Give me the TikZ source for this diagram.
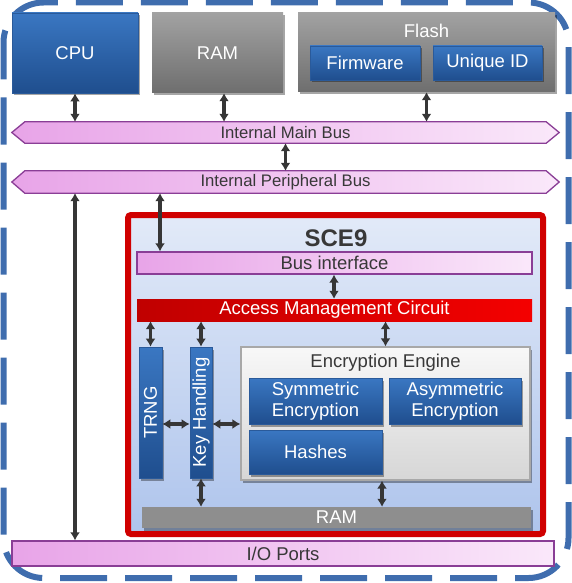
\documentclass[tikz,border=0pt]{standalone}
\usepackage{fontspec}
\setmainfont{Liberation Sans}
\usetikzlibrary{arrows.meta,shadows,calc}
\definecolor{blueT}{HTML}{3A77C2}
\definecolor{blueB}{HTML}{1F4E8E}
\definecolor{blueD}{HTML}{2A5A9A}
\definecolor{grayT}{HTML}{A2A2A2}
\definecolor{grayB}{HTML}{6E6E6E}
\definecolor{ramgray}{HTML}{8E8E8E}
\definecolor{pinkL}{HTML}{E8A4E8}
\definecolor{pinkR}{HTML}{FAE8FA}
\definecolor{busedge}{HTML}{8A3E96}
\definecolor{arrowc}{HTML}{363636}
\definecolor{txtdark}{HTML}{383838}
\definecolor{sceT}{HTML}{E2EAF8}
\definecolor{sceB}{HTML}{AEC4EC}
\definecolor{sceRed}{HTML}{D00000}
\definecolor{amcL}{HTML}{C00000}
\definecolor{amcR}{HTML}{F40000}
\definecolor{engT}{HTML}{F8F8F8}
\definecolor{engB}{HTML}{D6D6D6}
\definecolor{engEdge}{HTML}{A8A8A8}
\definecolor{outerc}{HTML}{3F6DAE}
\newcommand\fsbig{\fontsize{18.5}{21}\selectfont}
\newcommand\fsbus{\fontsize{16.7}{19}\selectfont}
\begin{document}
\begin{tikzpicture}[x=1pt,y=-1pt,
  box/.style={inner sep=0pt, text=white, font=\fsbig},
  shad/.style={drop shadow={shadow xshift=2pt, shadow yshift=-2.5pt, opacity=0.35, fill=black}},
  bluebox/.style={box, top color=blueT, bottom color=blueB, draw=blueD, line width=0.6pt, shad},
  graybox/.style={box, top color=grayT, bottom color=grayB, draw=none, shad},
  holder/.style={inner sep=0pt, draw=none},
  bus/.style={left color=pinkL, right color=pinkR, draw=busedge, line width=1.3pt},
  bustext/.style={inner sep=0pt, text=txtdark, font=\fsbus},
  conn/.style={draw=arrowc, line width=3.2pt, {Latex[length=8pt,width=10pt]}-{Latex[length=8pt,width=10pt]}},
  outerb/.style={draw=outerc, line width=6pt, rounded corners=40pt, dash pattern=on 47pt off 18pt, dash phase=10pt}
]
\useasboundingbox (0,0) rectangle (572,583);

% outer dashed border
\draw[outerb] (3.5,2.5) rectangle (568.5,578);

% top boxes
\node[bluebox, minimum width=126pt, minimum height=80pt] (cpu) at (75,53) {CPU};
\node[graybox, minimum width=131pt, minimum height=80pt] (ram) at (217.5,53) {RAM};
\node[graybox, minimum width=257pt, minimum height=79pt] (flash) at (426.5,52.5) {};
\node[box] (flashlbl) at (426.5,31) {Flash};
\node[bluebox, minimum width=110pt, minimum height=34pt] (fw) at (365,63) {Firmware};
\node[bluebox, minimum width=109pt, minimum height=34pt] (uid) at (487.5,63) {Unique ID};

% internal main bus
\node[holder, minimum width=521pt, minimum height=21pt] (mainbus) at (285.5,132.5) {};
\path[bus] (mainbus.north west) -- (mainbus.north east) -- ($(mainbus.east)+(13pt,0pt)$)
  -- (mainbus.south east) -- (mainbus.south west) -- ($(mainbus.west)+(-13pt,0pt)$) -- cycle;
\node[bustext] (mainbuslbl) at (mainbus.center) {Internal Main Bus};

% internal peripheral bus
\node[holder, minimum width=521pt, minimum height=22pt] (pbus) at (285.5,182) {};
\path[bus] (pbus.north west) -- (pbus.north east) -- ($(pbus.east)+(13pt,0pt)$)
  -- (pbus.south east) -- (pbus.south west) -- ($(pbus.west)+(-13pt,0pt)$) -- cycle;
\node[bustext] (pbuslbl) at (pbus.center) {Internal Peripheral Bus};

% I/O ports
\node[bus, minimum width=542pt, minimum height=25pt, inner sep=0pt] (io) at (283,553.5) {};
\node[box, text=txtdark] (iolbl) at (io.center) {I/O Ports};

% SCE9
\node[draw=sceRed, line width=6pt, rounded corners=3pt, top color=sceT, bottom color=sceB,
      minimum width=415pt, minimum height=319pt, inner sep=0pt] (sce) at (335.5,374.5) {};
\node[inner sep=0pt, text=txtdark, font=\fontsize{24}{28}\selectfont\bfseries] (scelbl) at (336,238) {SCE9};

\node[bus, minimum width=395pt, minimum height=22pt, inner sep=0pt] (bif) at (334.5,263) {};
\node[box, text=txtdark] (biflbl) at (bif.center) {Bus interface};

\node[box, left color=amcL, right color=amcR, minimum width=395pt, minimum height=22pt] (amc) at (334.5,310) {Access Management Circuit};

\node[bluebox, minimum width=23pt, minimum height=131pt] (trng) at (150.5,412.5) {};
\node[box, rotate=90] (trnglbl) at (trng.center) {TRNG};
\node[bluebox, minimum width=22pt, minimum height=131pt] (key) at (201,412.5) {};
\node[box, rotate=90] (keylbl) at (key.center) {Key Handling};

\node[box, top color=engT, bottom color=engB, draw=engEdge, line width=1.2pt, shad,
      minimum width=289pt, minimum height=133pt] (eng) at (385.5,413.5) {};
\node[box, text=txtdark] (englbl) at (385.5,363) {Encryption Engine};
\node[bluebox, minimum width=133pt, minimum height=46pt, align=center] (sym) at (315.5,401) {Symmetric\\Encryption};
\node[bluebox, minimum width=132pt, minimum height=46pt, align=center] (asym) at (455,401) {Asymmetric\\Encryption};
\node[bluebox, minimum width=133pt, minimum height=44pt] (hash) at (315.5,452) {Hashes};

\node[box, fill=ramgray, minimum width=389pt, minimum height=21pt, shad] (iram) at (336.5,517.5) {RAM};

% helper coordinates
\coordinate (xram) at (224,0);
\coordinate (xbif) at (160,0);
\coordinate (xamc) at (334,0);
\coordinate (xeng) at (382,0);
\coordinate (yh) at (0,424);

% connectors
\draw[conn] (cpu.south) -- (cpu.south |- mainbus.north);
\draw[conn] (ram.south -| xram) -- (mainbus.north -| xram);
\draw[conn] (flash.south) -- (flash.south |- mainbus.north);
\draw[conn] (mainbus.south) -- (mainbus.south |- pbus.north);
\draw[conn] (pbus.south -| cpu.south) -- (io.north -| cpu.south);
\draw[conn] (pbus.south -| xbif) -- (bif.north -| xbif);
\draw[conn] (bif.south -| xamc) -- (amc.north -| xamc);
\draw[conn] (amc.south -| trng.north) -- (trng.north);
\draw[conn] (amc.south -| key.north) -- (key.north);
\draw[conn] (amc.south -| eng.north) -- (eng.north);
\draw[conn] (trng.east |- yh) -- (key.west |- yh);
\draw[conn] (key.east |- yh) -- (eng.west |- yh);
\draw[conn] (key.south) -- (iram.north -| key.south);
\draw[conn] (eng.south -| xeng) -- (iram.north -| xeng);
\end{tikzpicture}
\end{document}
